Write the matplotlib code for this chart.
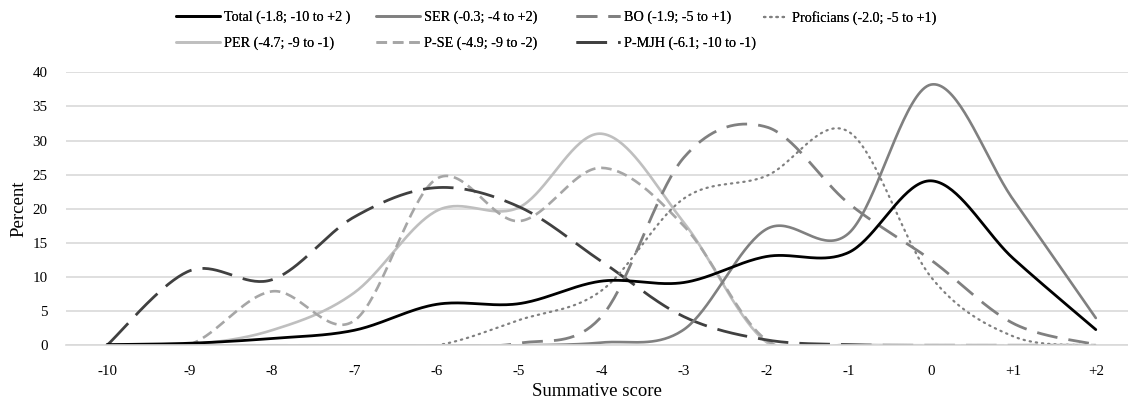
import numpy as np
import matplotlib
matplotlib.use("Agg")
import matplotlib.pyplot as plt

plt.rcParams["font.family"] = ["Liberation Serif", "DejaVu Serif"]

# ---------------- data ----------------
scores = [-10, -9, -8, -7, -6, -5, -4, -3, -2, -1, 0, 1, 2]
tick_labels = ["-10", "-9", "-8", "-7", "-6", "-5", "-4", "-3", "-2", "-1", "0", "+1", "+2"]

total = [0.1, 0.3, 1.0, 2.2, 6.0, 6.1, 9.4, 9.2, 13.0, 13.6, 24.1, 12.7, 2.3]
ser = [0, 0, 0, 0, 0, 0, 0.4, 2.3, 17.0, 16.4, 38.2, 21.3, 4.0]
bo = [0, 0, 0, 0, 0, 0.3, 4.2, 27.5, 32.0, 20.8, 12.5, 3.2, 0.1]
proficians = [0, 0, 0, 0, 0, 3.7, 8.0, 21.5, 24.8, 31.3, 10.0, 1.3, 0]
per = [0, 0.1, 2.2, 7.7, 19.7, 20.2, 31.0, 18.0, 0.5, 0.1, 0, 0, 0]
p_se = [0, 0.1, 7.9, 3.6, 24.4, 18.2, 26.0, 17.5, 0.8, 0, 0, 0, 0]
p_mjh = [0, 10.9, 9.6, 18.8, 23.1, 20.3, 12.3, 4.2, 0.8, 0.1, 0, 0, 0]

labels = {
    "total": "Total (-1.8; -10 to +2 )",
    "ser": "SER (-0.3; -4 to +2)",
    "bo": "BO (-1.9; -5 to +1)",
    "prof": "Proficians (-2.0; -5 to +1)",
    "per": "PER (-4.7; -9 to -1)",
    "pse": "P-SE (-4.9; -9 to -2)",
    "pmjh": "P-MJH (-6.1; -10 to -1)",
}


def smooth(x, y, n=40):
    """Excel-style smoothed line: cubic Bezier segments (Catmull-Rom control points)."""
    P = np.column_stack([np.asarray(x, float), np.asarray(y, float)])
    Pp = np.vstack([P[0], P, P[-1]])
    t = np.linspace(0, 1, n)[:, None]
    pts = []
    for i in range(len(P) - 1):
        p0 = Pp[i + 1]
        p3 = Pp[i + 2]
        c1 = p0 + (Pp[i + 2] - Pp[i]) / 6.0
        c2 = p3 - (Pp[i + 3] - Pp[i + 1]) / 6.0
        seg = ((1 - t) ** 3) * p0 + 3 * ((1 - t) ** 2) * t * c1 + 3 * (1 - t) * t ** 2 * c2 + t ** 3 * p3
        pts.append(seg if i == 0 else seg[1:])
    pts = np.vstack(pts)
    return pts[:, 0], pts[:, 1]


W, H = 1128, 400
fig = plt.figure(figsize=(W / 100, H / 100), dpi=100)

left_px, right_px = 65.8, 1128
top_px, bot_px = 72.3, 345.3
step_px = 82.4
ax = fig.add_axes([left_px / W, 1 - bot_px / H, (right_px - left_px) / W, (bot_px - top_px) / H])

styles = {
    "total": dict(color="#000000", lw=2.0, ls="-"),
    "ser": dict(color="#808080", lw=1.9, ls="-"),
    "bo": dict(color="#808080", lw=2.0, dashes=(7.5, 4.0)),
    "prof": dict(color="#808080", lw=1.6, dashes=(0.6, 2.2), dash_capstyle="round"),
    "per": dict(color="#BFBFBF", lw=1.9, ls="-"),
    "pse": dict(color="#A6A6A6", lw=1.9, dashes=(4.0, 2.2)),
    "pmjh": dict(color="#404040", lw=2.0, dashes=(11.0, 4.0)),
}

series = [
    ("per", per), ("pse", p_se), ("pmjh", p_mjh),
    ("prof", proficians), ("bo", bo), ("ser", ser), ("total", total),
]
handles = {}
for key, vals in series:
    sx, sy = smooth(scores, vals)
    (h,) = ax.plot(sx, sy, label=labels[key], solid_capstyle="round", **styles[key])
    handles[key] = h

ax.set_xlim(-10.5, -10.5 + (right_px - left_px) / step_px)
ax.set_ylim(0, 40)
ax.set_xticks(scores)
ax.set_xticklabels(tick_labels)
ax.set_yticks(np.arange(0, 41, 5))
ax.tick_params(axis="both", length=0, labelsize=10.8, colors="#000000")
ax.tick_params(axis="x", pad=14)
ax.tick_params(axis="y", pad=13)
ax.yaxis.grid(True, color="#D9D9D9", lw=1.2)
ax.set_axisbelow(True)
for s in ["top", "right", "left"]:
    ax.spines[s].set_visible(False)
ax.spines["bottom"].set_color("#D9D9D9")
ax.spines["bottom"].set_linewidth(1.2)

ax.set_xlabel("Summative score", fontsize=13.5, labelpad=4)
ax.set_ylabel("Percent", fontsize=13.5, labelpad=4)

# legend: 4 columns placed like the original
fs = 10.2
fpx = fs * 100 / 72.0
cols = [
    (176, ["total", "per"], 44),
    (376, ["ser", "pse"], 44),
    (576, ["bo", "pmjh"], 44),
    (764, ["prof"], 24),
]
for x0, keys, hl in cols:
    leg = fig.legend(
        [handles[k] for k in keys], [labels[k] for k in keys],
        loc="upper left", bbox_to_anchor=(x0 / W, 1 - 11 / H),
        frameon=False, fontsize=fs, handlelength=hl / fpx, handletextpad=4 / fpx,
        labelspacing=0.85, borderpad=0, borderaxespad=0,
    )
    fig.add_artist(leg)

fig.savefig("out.png", dpi=100)
